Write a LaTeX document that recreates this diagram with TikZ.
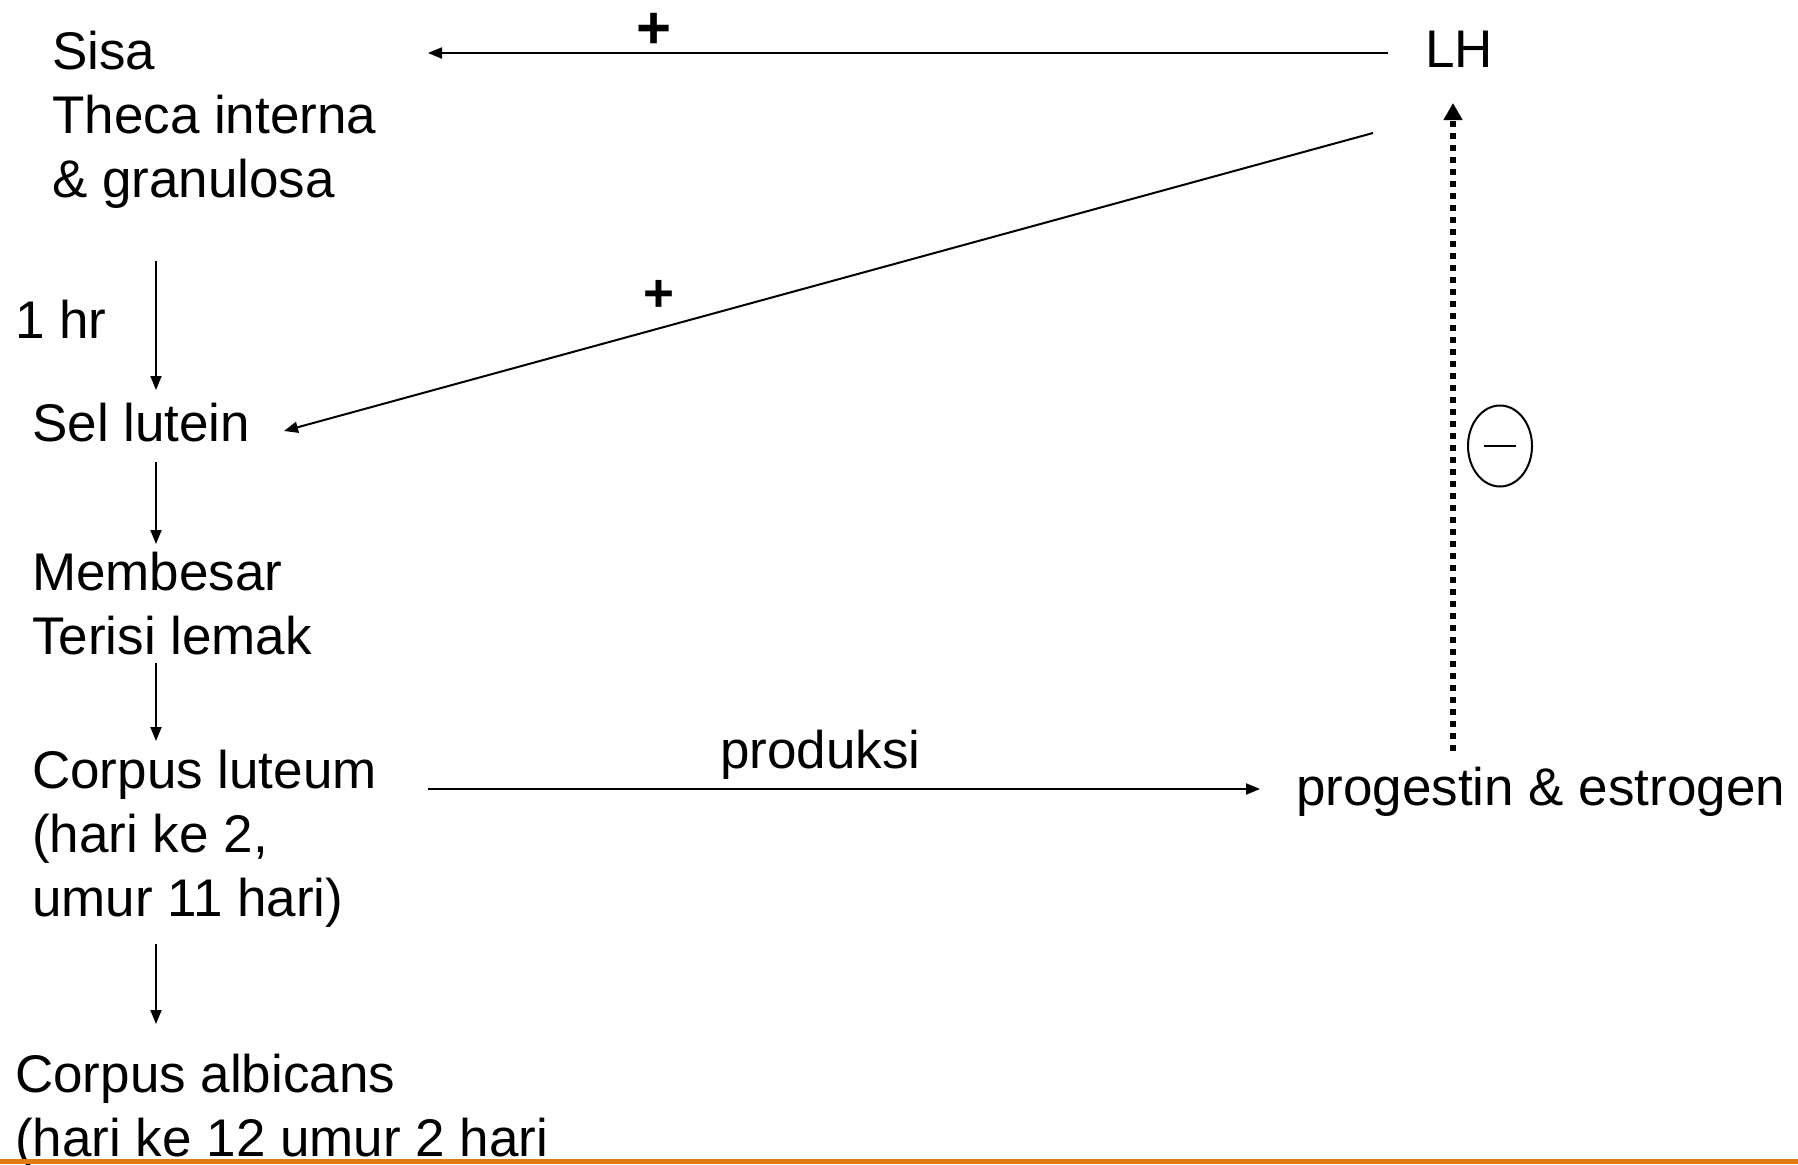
\documentclass[tikz,border=0pt]{standalone}
\usepackage{fontspec}
\setmainfont{Liberation Sans}
\usetikzlibrary{arrows.meta,calc,shapes.geometric}
\definecolor{orangeline}{RGB}{224,125,18}
\begin{document}
\begin{tikzpicture}[x=1pt,y=-1pt,
  txt/.style={font=\fontsize{53}{64}\selectfont, align=left, inner sep=0pt, anchor=north west},
  arr/.style={line width=2pt, -{Triangle[length=14pt,width=11pt]}},
  dotarr/.style={line width=6pt, dash pattern=on 6pt off 6pt, -{Triangle[length=17pt,width=18pt]}},
  plusbig/.style={font=\fontsize{60}{60}\selectfont\bfseries, inner sep=0pt},
  plussmall/.style={font=\fontsize{53}{53}\selectfont\bfseries, inner sep=0pt}]
\useasboundingbox (0,0) rectangle (1798,1164);

% text blocks
\node[txt] (sisa) at (52,31) {Sisa\\Theca interna\\\& granulosa};
\node[txt] (hr) at (15,300) {1 hr};
\node[txt] (sel) at (32,403) {Sel lutein};
\node[txt] (mem) at (32,552) {Membesar\\Terisi lemak};
\node[txt] (cl) at (32,750) {Corpus luteum\\(hari ke 2,\\umur 11 hari)};
\node[txt] (ca) at (15,1054) {Corpus albicans\\(hari ke 12 umur 2 hari};
\node[txt] (lh) at (1425,31) {LH};
\node[txt] (pe) at (1296,767) {progestin \& estrogen};
\node[txt] (prod) at (720,730) {produksi};

\node[plusbig] (p1) at (654,31) {+};
\node[plussmall] (p2) at (659,296) {+};

\node[draw, ellipse, line width=2pt, minimum width=64pt, minimum height=81pt, inner sep=0pt] (neg) at (1500,446) {};
\draw[line width=2pt] ($(neg.center)+(-16,0)$) -- ($(neg.center)+(16,0)$);

% connector ends
\coordinate (lhA) at (1388,53);
\coordinate (sisaA) at (428,53);
\coordinate (lhB) at (1373,133);
\coordinate (selB) at (284,431);
\coordinate (s1) at (156,261);
\coordinate (s2) at (156,390);
\coordinate (m1) at (156,462);
\coordinate (m2) at (156,544);
\coordinate (c1) at (156,663);
\coordinate (c2) at (156,741);
\coordinate (a1) at (156,944);
\coordinate (a2) at (156,1024);
\coordinate (pr1) at (428,789);
\coordinate (pr2) at (1260,789);
\coordinate (d1) at (1453,751);
\coordinate (d2) at (1453,103);

\draw[arr] (lhA) -- (sisaA);
\draw[arr] (lhB) -- (selB);
\draw[arr] (s1) -- (s2);
\draw[arr] (m1) -- (m2);
\draw[arr] (c1) -- (c2);
\draw[arr] (a1) -- (a2);
\draw[arr] (pr1) -- (pr2);
\draw[dotarr] (d1) -- (d2);

\fill[orangeline] (0,1159) rectangle (1798,1164);
\end{tikzpicture}
\end{document}
